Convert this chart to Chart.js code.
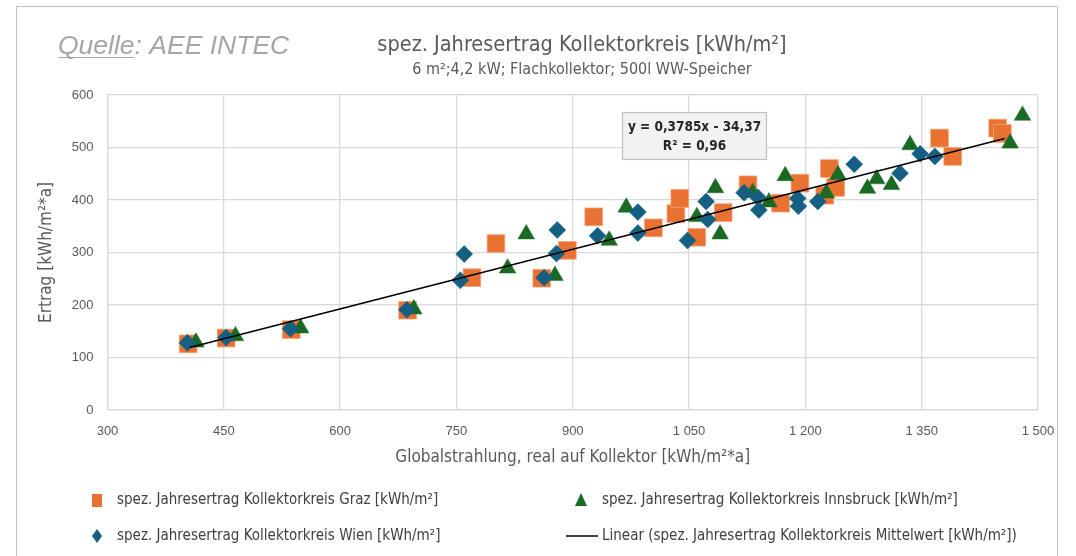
<!DOCTYPE html>
<html>
<head>
<meta charset="utf-8">
<script src="https://cdn.jsdelivr.net/npm/chart.js@4/dist/chart.umd.min.js"></script>
<style>
  html, body { margin: 0; padding: 0; background: #fff; }
</style>
</head>
<body>
<canvas id="chart" width="1076" height="556"></canvas>
<script>
// values
const grazX = [404, 453, 537, 687, 770, 801, 860, 893, 927, 1004, 1033, 1038, 1060, 1094, 1126, 1168, 1193, 1225, 1231, 1239, 1373, 1390, 1448, 1454];
const grazY = [126, 137, 153, 190, 252, 317, 251, 304, 368, 347, 374, 403, 329, 376, 429, 394, 432, 409, 460, 424, 518, 483, 537, 527];

const wienX = [403, 453, 536, 686, 755, 760, 863, 879, 880, 932, 984, 984, 1048, 1072, 1074, 1121, 1139, 1140, 1190, 1191, 1216, 1263, 1322, 1348, 1367];
const wienY = [128, 138, 155, 191, 247, 297, 252, 298, 343, 332, 377, 337, 323, 397, 363, 414, 405, 381, 403, 388, 397, 468, 451, 488, 483];

const innsX = [414, 465, 549, 695, 816, 840, 877, 947, 969, 1060, 1084, 1090, 1132, 1153, 1174, 1227, 1242, 1280, 1292, 1311, 1335, 1464, 1480];
const innsY = [129, 141, 156, 192, 270, 335, 256, 323, 386, 368, 423, 335, 414, 396, 446, 413, 448, 422, 440, 429, 505, 508, 561];

// trend line end points (linear fit of the mean)
const trendX = [406, 1457];
const trendY = [119, 517];

const xTicks = [300, 450, 600, 750, 900, 1050, 1200, 1350, 1500];
const yTicks = [0, 100, 200, 300, 400, 500, 600];

const labels = [
    'spez. Jahresertrag Kollektorkreis Graz [kWh/m²]',
    'spez. Jahresertrag Kollektorkreis Innsbruck [kWh/m²]',
    'spez. Jahresertrag Kollektorkreis Wien [kWh/m²]',
    'Linear (spez. Jahresertrag Kollektorkreis Mittelwert [kWh/m²])'
];

const ORANGE = '#E97132';
const GREEN = '#196B24';
const BLUE = '#156082';
const NARROW = "'Liberation Sans Narrow', 'DejaVu Sans Condensed', 'Roboto Condensed', 'Liberation Sans', sans-serif";

const pts = (xs, ys) => xs.map((x, i) => ({ x: x, y: ys[i] }));

const fmt = v => v >= 1000 ? String(v).replace(/(\d)(\d{3})$/, '$1 $2') : String(v);

const extras = {
    id: 'extras',
    beforeDraw(chart) {
        const ctx = chart.ctx;
        ctx.save();
        ctx.fillStyle = '#fff';
        ctx.fillRect(0, 0, chart.width, chart.height);
        ctx.restore();
    },
    afterDraw(chart) {
        const ctx = chart.ctx;
        ctx.save();

        // outer frame
        ctx.strokeStyle = '#bfbfbf';
        ctx.lineWidth = 1;
        ctx.strokeRect(16.5, 6.5, 1041, 560);

        // source
        ctx.font = "italic 26.5px 'Liberation Sans', Arial, sans-serif";
        ctx.fillStyle = '#a6a6a6';
        ctx.textAlign = 'left';
        ctx.textBaseline = 'alphabetic';
        ctx.fillText('Quelle: AEE INTEC', 58, 54);
        const w = ctx.measureText('Quelle').width;
        ctx.strokeStyle = '#a6a6a6';
        ctx.lineWidth = 1.2;
        ctx.beginPath();
        ctx.moveTo(58, 57.5);
        ctx.lineTo(58 + w, 57.5);
        ctx.stroke();

        // title + subtitle
        ctx.fillStyle = '#595959';
        ctx.textAlign = 'center';
        ctx.textBaseline = 'middle';
        ctx.font = '21.5px ' + NARROW;
        ctx.fillText('spez. Jahresertrag Kollektorkreis [kWh/m²]', 582, 45);
        ctx.font = '16px ' + NARROW;
        ctx.fillText('6 m²;4,2 kW; Flachkollektor; 500l WW-Speicher', 582, 70);

        // trend equation box
        ctx.fillStyle = '#f2f2f2';
        ctx.fillRect(622.5, 112.5, 144, 47);
        ctx.strokeStyle = '#bfbfbf';
        ctx.strokeRect(622.5, 112.5, 144, 47);
        ctx.fillStyle = '#262626';
        ctx.font = 'bold 13.5px ' + NARROW;
        ctx.fillText('y = 0,3785x - 34,37', 694.5, 127);
        ctx.fillText('R² = 0,96', 694.5, 146);

        // legend
        ctx.font = '15px ' + NARROW;
        ctx.textAlign = 'left';
        const rows = [500, 536];
        // Graz square
        ctx.fillStyle = ORANGE;
        ctx.fillRect(92, rows[0] - 6, 10, 13);
        // Innsbruck triangle
        ctx.fillStyle = GREEN;
        ctx.beginPath();
        ctx.moveTo(581, rows[0] - 7);
        ctx.lineTo(587, rows[0] + 6);
        ctx.lineTo(575, rows[0] + 6);
        ctx.closePath();
        ctx.fill();
        // Wien diamond
        ctx.fillStyle = BLUE;
        ctx.beginPath();
        ctx.moveTo(97, rows[1] - 7);
        ctx.lineTo(102, rows[1]);
        ctx.lineTo(97, rows[1] + 7);
        ctx.lineTo(92, rows[1]);
        ctx.closePath();
        ctx.fill();
        // trend line
        ctx.strokeStyle = '#000';
        ctx.lineWidth = 1.5;
        ctx.beginPath();
        ctx.moveTo(566, rows[1]);
        ctx.lineTo(598, rows[1]);
        ctx.stroke();

        ctx.fillStyle = '#404040';
        ctx.fillText(labels[0], 117, rows[0]);
        ctx.fillText(labels[1], 602, rows[0]);
        ctx.fillText(labels[2], 117, rows[1]);
        ctx.fillText(labels[3], 602, rows[1]);

        ctx.restore();
    }
};

new Chart(document.getElementById('chart'), {
    type: 'scatter',
    data: {
        datasets: [
            {
                type: 'line',
                label: labels[3],
                data: pts(trendX, trendY),
                borderColor: '#000',
                borderWidth: 1.5,
                pointRadius: 0,
                fill: false,
                order: 0
            },
            {
                label: labels[2],
                data: pts(wienX, wienY),
                pointStyle: 'rectRot',
                pointRadius: 8.5,
                backgroundColor: BLUE,
                borderColor: BLUE,
                borderWidth: 0.5,
                order: 1
            },
            {
                label: labels[1],
                data: pts(innsX, innsY),
                pointStyle: 'triangle',
                pointRadius: 9.6,
                backgroundColor: GREEN,
                borderColor: GREEN,
                borderWidth: 0.5,
                order: 2
            },
            {
                label: labels[0],
                data: pts(grazX, grazY),
                pointStyle: 'rect',
                pointRadius: 12.5,
                backgroundColor: ORANGE,
                borderColor: '#f4a37a',
                borderWidth: 0.8,
                order: 3
            }
        ]
    },
    options: {
        responsive: false,
        animation: false,
        layout: { padding: { left: 34, right: 38, top: 95, bottom: 86 } },
        plugins: {
            legend: { display: false },
            tooltip: { enabled: false }
        },
        scales: {
            x: {
                type: 'linear',
                min: 300,
                max: 1500,
                afterBuildTicks: s => { s.ticks = xTicks.map(v => ({ value: v })); },
                afterFit: s => { s.height = 60; },
                grid: { color: '#d9d9d9', lineWidth: 1.3, drawTicks: false },
                border: { color: '#d9d9d9', width: 1.3 },
                ticks: {
                    color: '#595959',
                    font: { family: 'Liberation Sans', size: 13 },
                    padding: 14,
                    maxRotation: 0,
                    callback: v => fmt(v)
                },
                title: {
                    display: true,
                    text: 'Globalstrahlung, real auf Kollektor [kWh/m²*a]',
                    color: '#595959',
                    font: { family: NARROW, size: 17 },
                    padding: { top: 4, bottom: 2 }
                }
            },
            y: {
                min: 0,
                max: 600,
                afterBuildTicks: s => { s.ticks = yTicks.map(v => ({ value: v })); },
                afterFit: s => { s.width = 73.5; },
                grid: { color: '#d9d9d9', lineWidth: 1.3, drawTicks: false },
                border: { color: '#d9d9d9', width: 1.3 },
                ticks: {
                    color: '#595959',
                    font: { family: 'Liberation Sans', size: 13 },
                    padding: 14
                },
                title: {
                    display: true,
                    text: 'Ertrag [kWh/m²*a]',
                    color: '#595959',
                    font: { family: NARROW, size: 17 },
                    padding: { top: 2, bottom: 2 }
                }
            }
        }
    },
    plugins: [extras]
});
</script>
</body>
</html>
